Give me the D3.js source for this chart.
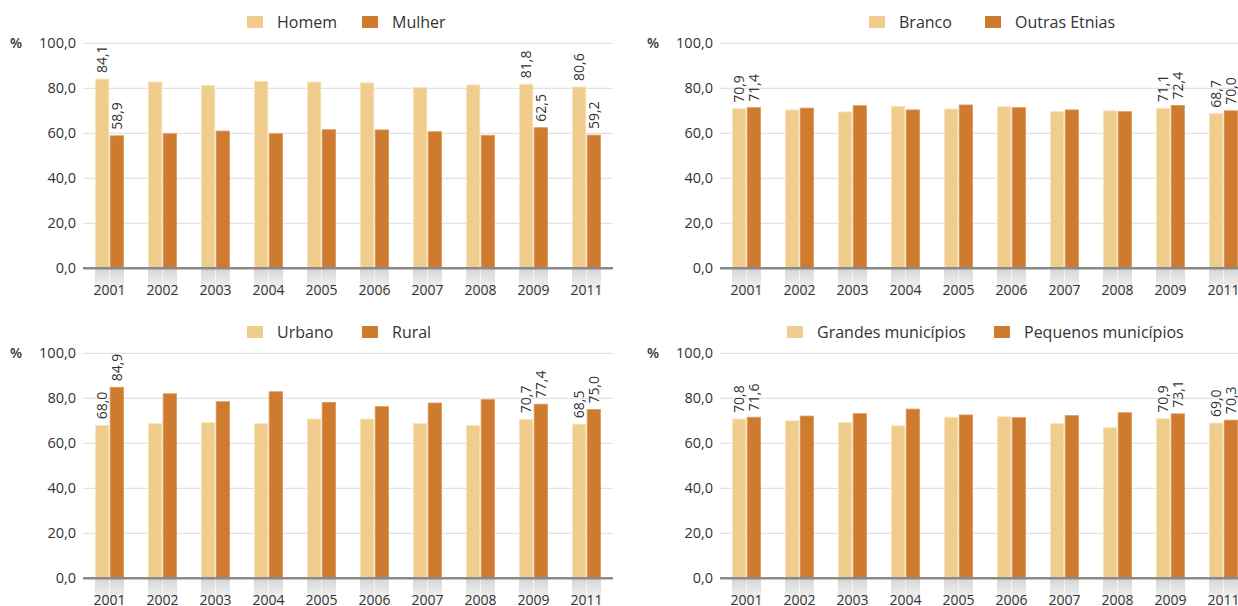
<!DOCTYPE html>
<html><head><meta charset="utf-8">
<script src="https://cdn.jsdelivr.net/npm/d3@7"></script>
<style>
html,body{margin:0;padding:0;background:#fff;}
svg text{font-family:"Open Sans",sans-serif;fill:#333;}
</style></head>
<body><svg id="c" width="1238" height="606"></svg>
<script>
const years = ["2001","2002","2003","2004","2005","2006","2007","2008","2009","2011"];
const yTicks = [0,20,40,60,80,100];
const labeledYears = ["2001","2009","2011"];

const homem  = [84.1,82.8,81.3,83.1,82.8,82.4,80.4,81.5,81.8,80.6];
const mulher = [58.9,59.8,61.0,59.8,61.6,61.5,60.7,59.1,62.5,59.2];

const branco = [70.9,70.4,69.5,72.0,70.8,71.8,69.6,70.0,71.1,68.7];
const outras = [71.4,71.2,72.3,70.4,72.6,71.4,70.4,69.6,72.4,70.0];

const urbano = [68.0,68.7,69.2,68.7,70.8,70.8,68.7,67.8,70.7,68.5];
const rural  = [84.9,82.0,78.5,82.9,78.2,76.3,77.9,79.4,77.4,75.0];

const grandes   = [70.8,70.0,69.3,67.8,71.6,71.8,68.7,66.9,70.9,69.0];
const pequenos  = [71.6,72.1,73.2,75.2,72.6,71.4,72.3,73.6,73.1,70.3];

const legendNames = [
  ["Homem","Mulher"],
  ["Branco","Outras Etnias"],
  ["Urbano","Rural"],
  ["Grandes municípios","Pequenos municípios"]
];

const colors = ["#f0cd8d","#cf7b2f"];
const strokes = ["#f8e4bd","#dc9a5a"];

const svg = d3.select("#c");
const defs = svg.append("defs");
const grad = defs.append("linearGradient").attr("id","refl").attr("x1",0).attr("y1",0).attr("x2",0).attr("y2",1);
grad.append("stop").attr("offset","0%").attr("stop-color","#d6d6d6");
grad.append("stop").attr("offset","100%").attr("stop-color","#ffffff");

const fmt = v => d3.format(".1f")(v).replace(".", ",");

const panels = [
  {x0:83, top:43.3, bottom:268.3, data:[homem,mulher], names:legendNames[0], legX:[247,362], legY:16},
  {x0:720, top:43.3, bottom:268.3, data:[branco,outras], names:legendNames[1], legX:[869,985], legY:16},
  {x0:83, top:353.3, bottom:578.3, data:[urbano,rural], names:legendNames[2], legX:[247,362], legY:326},
  {x0:720, top:353.3, bottom:578.3, data:[grandes,pequenos], names:legendNames[3], legX:[787,994], legY:326}
];

panels.forEach(p => {
  const g = svg.append("g");
  const W = 530;
  const x = d3.scaleBand().domain(years).range([p.x0, p.x0+W]).paddingInner(24/53).paddingOuter(12/53);
  const x1 = d3.scaleBand().domain([0,1]).range([0, x.bandwidth()]).paddingInner(1/29);
  const y = d3.scaleLinear().domain([0,100]).range([p.bottom, p.top]);

  // gridlines
  g.selectAll(".grid").data(yTicks.filter(t=>t>0)).join("line")
    .attr("x1",p.x0).attr("x2",p.x0+W)
    .attr("y1",d=>y(d)).attr("y2",d=>y(d))
    .attr("stroke","#e2e2e2").attr("stroke-width",1.2);

  // y tick labels
  g.selectAll(".yl").data(yTicks).join("text")
    .attr("x",p.x0-7).attr("y",d=>y(d)+5)
    .attr("text-anchor","end").attr("font-size",14.5)
    .text(d=>fmt(d));
  g.append("text").attr("x",p.x0-73).attr("y",p.top+5).attr("font-size",14).attr("font-weight","600").text("%");

  // reflections and bars
  p.data.forEach((series,si) => {
    g.selectAll(".refl"+si).data(series).join("rect")
      .attr("x",(d,i)=>x(years[i])+x1(si)).attr("y",p.bottom)
      .attr("width",x1.bandwidth()).attr("height",30)
      .attr("fill","url(#refl)");
    g.selectAll(".bar"+si).data(series).join("rect")
      .attr("x",(d,i)=>x(years[i])+x1(si)+0.4).attr("y",d=>y(d))
      .attr("width",x1.bandwidth()-0.8).attr("height",d=>p.bottom-y(d))
      .attr("fill",colors[si]).attr("stroke",strokes[si]).attr("stroke-width",0.8);
    g.selectAll(".vl"+si).data(series).join("text")
      .filter((d,i)=>labeledYears.includes(years[i]))
      .attr("transform",function(d){
        const i = series.indexOf(d);
        const cx = x(years[i])+x1(si)+x1.bandwidth()/2+5;
        return `translate(${cx},${y(d)-6}) rotate(-90)`;
      })
      .attr("font-size",14).text(d=>fmt(d));
  });

  // axis line
  g.append("line").attr("x1",p.x0).attr("x2",p.x0+W).attr("y1",p.bottom).attr("y2",p.bottom)
    .attr("stroke","#8a8a8a").attr("stroke-width",2.5);

  // x labels
  g.selectAll(".xl").data(years).join("text")
    .attr("x",d=>x(d)+x.bandwidth()/2).attr("y",p.bottom+27)
    .attr("text-anchor","middle").attr("font-size",14).text(d=>d);

  // legend
  p.names.forEach((n,k)=>{
    g.append("rect").attr("x",p.legX[k]).attr("y",p.legY).attr("width",16).attr("height",12).attr("fill",colors[k]);
    g.append("text").attr("x",p.legX[k]+30).attr("y",p.legY+12).attr("font-size",16).text(n);
  });
});
</script></body></html>
